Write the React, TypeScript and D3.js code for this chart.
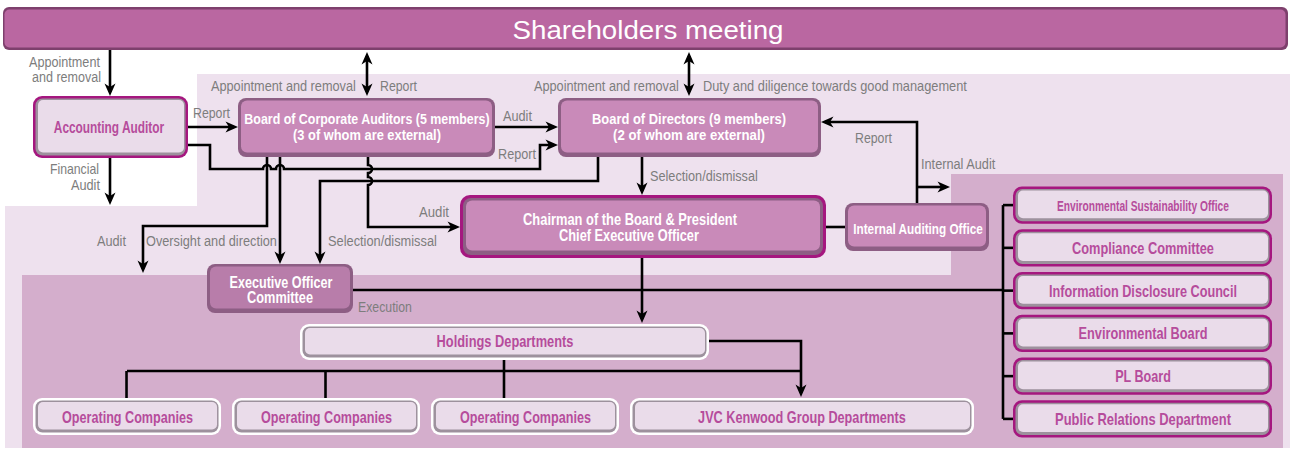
import React from "react";
import * as d3 from "d3";

// ---------------- data ----------------
const topBody = "Shareholders meeting";
const auditBodies = [
  ["Accounting Auditor"],
  ["Board of Corporate Auditors (5 members)", "(3 of whom are external)"],
  ["Board of Directors (9 members)", "(2 of whom are external)"],
];
const executiveBodies = [
  ["Chairman of the Board & President", "Chief Executive Officer"],
  ["Internal Auditing Office"],
  ["Executive Officer", "Committee"],
];
const committees = [
  "Environmental Sustainability Office",
  "Compliance Committee",
  "Information Disclosure Council",
  "Environmental Board",
  "PL Board",
  "Public Relations Department",
];
const groupDepartments = ["Holdings Departments", "JVC Kenwood Group Departments"];
const operatingUnits = ["Operating Companies", "Operating Companies", "Operating Companies"];
const flowLabels = [
  "Appointment", "and removal", "Appointment and removal", "Report",
  "Appointment and removal", "Duty and diligence towards good management",
  "Report", "Audit", "Report", "Financial", "Audit", "Audit",
  "Oversight and direction", "Selection/dismissal", "Audit",
  "Selection/dismissal", "Report", "Internal Audit", "Execution",
];

// ---------------- layout & style ----------------
const W = 1290, H = 450;
const FONT = "'Liberation Sans Narrow','Arial Narrow','Liberation Sans',Arial,sans-serif";
const C = {
  lightBg: "#EEE1EE", darkBg: "#D4AECC",
  share: "#BA67A1", shareEdge: "#7E406D",
  pink: "#C98AB9", pinkEdge: "#8D5E84",
  exec: "#B87DAA",
  magenta: "#A5177F", grayRing: "#9D919D", lightFill: "#EADCEA",
  boxText: "#B64C9C", label: "#7D7D7D", line: "#000",
};
// label layout: [x, baseline, width]
const flowPos: [number, number, number][] = [
  [29, 67, 71], [32, 82, 69], [211, 91, 145], [380, 91, 37],
  [534, 91, 145], [703, 91, 264],
  [193, 118, 37], [503, 121, 29], [498, 159, 38], [50, 174, 49], [71, 190, 29], [97, 246, 29],
  [146, 246, 131], [328, 246, 109], [419, 217, 30],
  [650, 181, 108], [855, 143, 37], [921, 169, 75], [358, 312, 54],
];

const committeeY = d3.scaleBand<number>().domain(d3.range(committees.length)).range([186.5, 437.5]).paddingInner(0.13);
const committeeText = [
  { s: 15, w: 172 }, { s: 16.5, w: 142 }, { s: 16.5, w: 188 }, { s: 16.5, w: 129 }, { s: 16.5, w: 56 }, { s: 16.5, w: 176 },
];
const operatingX = d3.scaleBand<number>().domain(d3.range(operatingUnits.length)).range([33, 619]).paddingInner(0.055);

const line = d3.line();

let measureCtx: CanvasRenderingContext2D | null = null;
function measure(t: string, s: number, b: boolean) {
  if (!measureCtx) measureCtx = document.createElement("canvas").getContext("2d");
  if (!measureCtx) return t.length * s * 0.55;
  measureCtx.font = `${b ? "bold " : ""}${s}px ${FONT}`;
  return measureCtx.measureText(t).width;
}

function Txt({ t, x, y, w, s, a = "middle", c, b = false }: { t: string; x: number; y: number; w?: number; s: number; a?: string; c: string; b?: boolean }) {
  const k = w ? w / measure(t, s, b) : 1;
  return (
    <text transform={`translate(${x},${y}) scale(${k},1)`} x={0} y={0} fontSize={s} fontFamily={FONT}
      fontWeight={b ? "bold" : "normal"} fill={c} textAnchor={a as any}>{t}</text>
  );
}

function LightBox({ x, y, w, h, ring }: { x: number; y: number; w: number; h: number; ring: string }) {
  return (
    <g>
      <rect x={x} y={y} width={w} height={h} rx={9} fill={ring} />
      <rect x={x + 2.5} y={y + 2.5} width={w - 5} height={h - 5} rx={7} fill={C.grayRing} />
      <rect x={x + 5} y={y + 4} width={w - 9} height={h - 9.5} rx={5} fill={C.lightFill} />
    </g>
  );
}

function PinkBox({ x, y, w, h, fill = C.pink }: { x: number; y: number; w: number; h: number; fill?: string }) {
  return (
    <g>
      <rect x={x} y={y} width={w} height={h} rx={8} fill={C.pinkEdge} />
      <rect x={x + 3} y={y + 2.5} width={w - 6} height={h - 7} rx={6} fill={fill} />
    </g>
  );
}

// shorten the end of a polyline so the arrowhead tip lands on the original point
function shorten(pts: [number, number][], end: boolean, start = false, d = 4): [number, number][] {
  const p = pts.map((q) => [q[0], q[1]] as [number, number]);
  const move = (i: number, j: number) => {
    const dx = p[i][0] - p[j][0], dy = p[i][1] - p[j][1];
    const L = Math.hypot(dx, dy) || 1;
    p[i] = [p[i][0] - (dx / L) * d, p[i][1] - (dy / L) * d];
  };
  if (end) move(p.length - 1, p.length - 2);
  if (start) move(0, 1);
  return p;
}

export default function App() {
  const committeeMidY = committees.map((_, i) => committeeY(i)! + committeeY.bandwidth() / 2);

  const arrows: { pts: [number, number][]; end?: boolean; start?: boolean }[] = [
    { pts: [[110, 50], [110, 96]], end: true },
    { pts: [[110, 158], [110, 205]], end: true },
    { pts: [[188, 127], [238, 127]], end: true },
    { pts: [[367, 52], [367, 96]], end: true, start: true },
    { pts: [[689, 52], [689, 96]], end: true, start: true },
    { pts: [[495, 127], [558, 127]], end: true },
    { pts: [[598, 157], [598, 181], [320, 181], [320, 264]], end: true },
    { pts: [[267, 157], [267, 226], [143, 226], [143, 273]], end: true },
    { pts: [[280, 157], [280, 264]], end: true },
    { pts: [[642, 157], [642, 195]], end: true },
    { pts: [[642, 258], [642, 323]], end: true },
    { pts: [[353, 290], [1003, 290]] },
    { pts: [[826, 227], [845, 227]] },
    { pts: [[917, 203], [917, 122], [821, 122]], end: true },
    { pts: [[917, 187], [950, 187]], end: true },
    { pts: [[1003, committeeMidY[0]], [1003, committeeMidY[committeeMidY.length - 1]]] },
    ...committeeMidY.map((y) => ({ pts: [[1003, y], [1014, y]] as [number, number][] })),
    { pts: [[709, 341], [801, 341], [801, 397]], end: true },
    { pts: [[127, 371], [801, 371]] },
    { pts: [[504, 360], [504, 398]] },
    ...[0, 1].map((i) => {
      const cx = operatingX(i)! + operatingX.bandwidth() / 2 - 0.5;
      return { pts: [[cx, 371], [cx, 398]] as [number, number][] };
    }),
  ];

  // report line with hops
  const rp = d3.path();
  rp.moveTo(188, 145); rp.lineTo(210, 145); rp.lineTo(210, 169);
  [267, 280].forEach((hx) => { rp.lineTo(hx - 4, 169); rp.arc(hx, 169, 4, Math.PI, 2 * Math.PI); });
  rp.lineTo(540, 169); rp.lineTo(540, 145); rp.lineTo(554, 145);
  // audit line with bumps
  const ap = d3.path();
  ap.moveTo(368, 157); ap.lineTo(368, 165); ap.arc(368, 169, 4, -Math.PI / 2, Math.PI / 2);
  ap.lineTo(368, 177); ap.arc(368, 181, 4, -Math.PI / 2, Math.PI / 2);
  ap.lineTo(368, 227); ap.lineTo(456, 227);

  const lightPoly: [number, number][] = [[197, 74], [1290, 74], [1290, 448], [5, 448], [5, 206], [197, 206]];
  const darkPoly: [number, number][] = [[22, 275], [951, 275], [951, 174], [1283, 174], [1283, 448], [22, 448]];

  return (
    <svg width={W} height={H} style={{ position: "absolute", left: 0, top: 0, background: "#fff" }}>
      <defs>
        <marker id="ah" viewBox="-9 -6 14 12" refX={0} refY={0} markerWidth={14} markerHeight={12}
          markerUnits="userSpaceOnUse" orient="auto-start-reverse">
          <path d="M4,0 L-8.5,-5.5 L-5,0 L-8.5,5.5Z" fill={C.line} />
        </marker>
      </defs>
      <path d={line(lightPoly)! + "Z"} fill={C.lightBg} />
      <path d={line(darkPoly)! + "Z"} fill={C.darkBg} />

      {/* connectors */}
      <g fill="none" stroke={C.line} strokeWidth={2.6}>
        {arrows.map((a, i) => (
          <path key={i} d={line(shorten(a.pts, !!a.end, !!a.start))!}
            markerEnd={a.end ? "url(#ah)" : undefined} markerStart={a.start ? "url(#ah)" : undefined} />
        ))}
        <path d={rp.toString()} markerEnd="url(#ah)" />
        <path d={ap.toString()} markerEnd="url(#ah)" />
      </g>

      {/* shareholders */}
      <rect x={3} y={7} width={1285} height={43} rx={6} fill={C.shareEdge} />
      <rect x={4.5} y={9.5} width={1281} height={38} rx={5} fill={C.share} />
      <Txt t={topBody} x={648} y={39} s={26} w={271} c="#fff" />

      {/* audit bodies */}
      <LightBox x={33} y={96} w={155} h={62} ring={C.magenta} />
      <Txt t={auditBodies[0][0]} x={109} y={132.5} s={16} w={111} c={C.boxText} b />
      <PinkBox x={238} y={98} w={257} h={59} />
      <Txt t={auditBodies[1][0]} x={367} y={124} s={15} w={246} c="#fff" b />
      <Txt t={auditBodies[1][1]} x={367} y={140} s={15} w={148} c="#fff" b />
      <PinkBox x={558} y={98} w={263} h={59} />
      <Txt t={auditBodies[2][0]} x={689} y={124} s={15} w={194} c="#fff" b />
      <Txt t={auditBodies[2][1]} x={689} y={140} s={15} w={152} c="#fff" b />

      {/* executive bodies */}
      <rect x={460} y={195} width={366} height={63} rx={10} fill={C.magenta} />
      <PinkBox x={463} y={198} w={360} h={57} />
      <Txt t={executiveBodies[0][0]} x={630} y={224.5} s={16} w={214} c="#fff" b />
      <Txt t={executiveBodies[0][1]} x={629} y={240.5} s={16} w={140} c="#fff" b />
      <PinkBox x={845} y={203} w={144} h={48} />
      <Txt t={executiveBodies[1][0]} x={918} y={234} s={15.5} w={130} c="#fff" b />
      <PinkBox x={207} y={264} w={146} h={49} fill={C.exec} />
      <Txt t={executiveBodies[2][0]} x={281} y={287.5} s={16} w={103} c="#fff" b />
      <Txt t={executiveBodies[2][1]} x={280} y={303} s={16} w={66} c="#fff" b />

      {/* committees */}
      {committees.map((name, i) => (
        <g key={i}>
          <LightBox x={1013} y={committeeY(i)!} w={259} h={committeeY.bandwidth()} ring={C.magenta} />
          <Txt t={name} x={1143} y={committeeMidY[i] + committeeText[i].s * 0.37} s={committeeText[i].s}
            w={committeeText[i].w} c={C.boxText} b />
        </g>
      ))}

      {/* group */}
      <LightBox x={300} y={324} w={409} h={36} ring="#fff" />
      <Txt t={groupDepartments[0]} x={505} y={347} s={16.5} w={137} c={C.boxText} b />
      {operatingUnits.map((name, i) => (
        <g key={i}>
          <LightBox x={operatingX(i)!} y={398} w={operatingX.bandwidth()} h={37} ring="#fff" />
          <Txt t={name} x={operatingX(i)! + operatingX.bandwidth() / 2 + 0.5} y={422.5} s={16.5} w={131} c={C.boxText} b />
        </g>
      ))}
      <LightBox x={630} y={398} w={344} h={37} ring="#fff" />
      <Txt t={groupDepartments[1]} x={802} y={422.5} s={16.5} w={208} c={C.boxText} b />

      {/* flow labels */}
      {flowLabels.map((t, i) => (
        <Txt key={i} t={t} x={flowPos[i][0]} y={flowPos[i][1]} w={flowPos[i][2]} s={15} a="start" c={C.label} />
      ))}
    </svg>
  );
}
